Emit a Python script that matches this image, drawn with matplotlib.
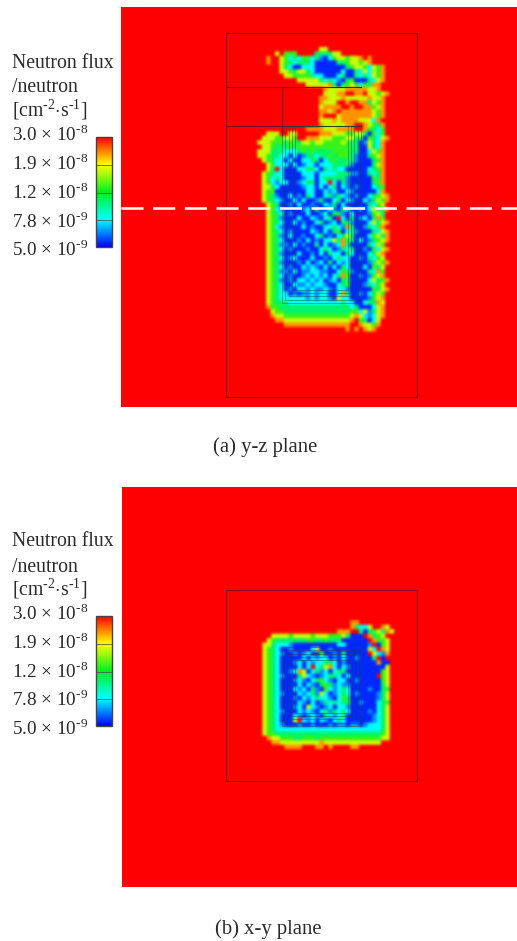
import numpy as np
import matplotlib
matplotlib.use("Agg")
import matplotlib.pyplot as plt
from matplotlib.colors import LinearSegmentedColormap, LogNorm
from matplotlib.cm import ScalarMappable

plt.rcParams['font.family'] = ['Liberation Serif', 'DejaVu Serif']
plt.rcParams['mathtext.fontset'] = 'custom'
plt.rcParams['mathtext.rm'] = 'Liberation Serif'
plt.rcParams['lines.scale_dashes'] = False

W, H = 517, 941
GRID = 90

flux_levels = [5.4e-9, 6.4e-9, 7.8e-9, 1.05e-8, 1.35e-8, 1.75e-8, 2.3e-8, 3.0e-8]
legend_lines = ["Neutron flux", "/neutron", "[cm$^{\u2010 2}$$\\cdot$s$^{\u2010 1}$]"]
tick_values = [3.0e-8, 1.9e-8, 1.2e-8, 7.8e-9, 5.0e-9]
tick_labels = ["3.0 × 10$^{\u20108}$", "1.9 × 10$^{\u20108}$", "1.2 × 10$^{\u20108}$", "7.8 × 10$^{\u20109}$", "5.0 × 10$^{\u20109}$"]
captions = ["(a) y-z plane", "(b) x-y plane"]

yz_rows = [
"77777777777777557777777777777",
"7777574447777333355",
"776775423244231024554556767",
"7767754323332000003345545677",
"7777753200222000000034554254677",
"7777755435532000000200325254677",
"7777775544443220002300323254677",
"7777777775555532321034000325677",
"7777777777755555630345424366777",
"777777777777777655556666655677",
"7777777777777775556677667554567",
"7777777777777766555655555655677",
"7777777777777765557767766354677",
"7777777777777756666776776645677",
"7777777777777766567666666654677",
"7777777777777767775666666654677",
"7777777777777755565666655526777",
"7777777777777765555566776543677",
"7777777777766665556666776432477",
"7755577557777766655544553042477",
"7555445547766655544455340432567",
"5554443443554554444543301532677",
"7554333434444444444443300532677",
"5553332223434333344443300254677",
"5543322020133233434443100345677",
"7543220200223302343333100034677",
"7754222020122022233331000035677",
"7753720002233203232200000234677",
"7543220000222022223331100323677",
"7542320000122023333310000043677",
"7542122001233022720310000034677",
"7553200000122020230210100023477",
"7544000000022002120021000002677",
"7543100201032002313210100234567",
"7543210020200130023021002135467",
"7754300102001002130200000324577",
"7754210000120300210320010253467",
"7754320100020012033102000145377",
"7754310002002102307203012036477",
"7754320020100230120331000253567",
"7754210000201002232163001324677",
"7754320100002102034023100032567",
"7754310200100230102353000245367",
"7754320001020102253633020134567",
"7754311020100302012630000325477",
"7754320100010023201323001042567",
"7754310002001020322032000235677",
"7754320120002001023220010324577",
"7754310001020120302120000135467",
"7754320100212102020320002043577",
"7754311020112211002431000326477",
"7754320100121212023640010145677",
"7754310102212120120330000253467",
"7754320021121221002340001324577",
"7754320102212112102210000043567",
"7754322010112122002630010235477",
"7754322222212122105220000145677",
"7754333222222222222322002336577",
"7764433333333333333332300025677",
"7775443333333333333334425135677",
"7776554444444444444445652125677",
"7777665555555555555556743025777",
"7777776666666666666667765546777",
"7777777777777777777767676567777",
]

xy_rows = [
"7777777777777777777777777777777",
"7777777777777777777777777777777",
"7777777777777777777776677777777",
"7777777777777777777776322577657",
"7777777777777777776667730345365",
"7775555455554555444530007634577",
"7754333333344334333000000764457",
"7553222100000000002200000170457",
"7543200100002500100000000527657",
"7543210010120040010300000752167",
"7543200000202122010200100037077",
"7543200012021223320100000006007",
"7543200002027235620210000000057",
"7543200126502312023300000000457",
"7543210003521012332020000007457",
"7543200012102342102200100000457",
"7543200002021034312110000000357",
"7543200021203104212320000100347",
"7543210002123152012320100001357",
"7543200010212322102430000001357",
"7543200002102013232330010002347",
"7543200012052101202210000002357",
"7543210002121023132320000102357",
"7543200021012103212300000012357",
"7543200057212021023200000012357",
"7543210001001000101101101222357",
"7543222222222222222222222222357",
"7544333333333333333333333333457",
"7765544433444344444444444444557",
"7776655555555565555555555555777",
"7777776666777667677776677777777",
]

cmap = LinearSegmentedColormap.from_list(
    "flux", ["#0000ff", "#00ffff", "#00f020", "#ffff00", "#ff0000"], N=256)
norm = LogNorm(5e-9, 3e-8)


def to_grid(rows, col0, row0):
    g = np.full((GRID, GRID), flux_levels[-1])
    for r, s in enumerate(rows):
        for c, ch in enumerate(s.ljust(31, '7')[:31]):
            g[row0 + r, col0 + c] = flux_levels[int(ch)]
    return g


def px_axes(x0, y0, x1, y1):
    return fig.add_axes([x0 / W, 1 - y1 / H, (x1 - x0) / W, (y1 - y0) / H])


fig = plt.figure(figsize=(W / 100, H / 100), dpi=100, facecolor='white')
LINE = '#7a1010'


def map_panel(x0, y0, x1, y1, rows, col0, row0):
    ax = px_axes(x0, y0, x1, y1)
    ax.imshow(to_grid(rows, col0, row0), cmap=cmap, norm=norm, aspect='auto',
              extent=(x0, x1, y1, y0), interpolation='hamming', interpolation_stage='rgba')
    ax.set_xlim(x0, x1)
    ax.set_ylim(y1, y0)
    ax.axis('off')
    return ax


def rect(ax, x0, y0, x1, y1, lw=0.8, alpha=0.9, color=LINE):
    ax.plot([x0, x1, x1, x0, x0], [y0, y0, y1, y1, y0], color=color, lw=lw, alpha=alpha,
            solid_joinstyle='miter')


def scale_panel(x0, y0, x1, y1, text_x, first_y):
    cax = px_axes(x0, y0, x1, y1)
    cb = fig.colorbar(ScalarMappable(norm=norm, cmap=cmap), cax=cax)
    cb.ax.yaxis.set_major_locator(plt.NullLocator())
    cb.ax.yaxis.set_minor_locator(plt.NullLocator())
    cb.outline.set_edgecolor('#444444')
    cb.outline.set_linewidth(1.0)
    for v in tick_values[1:4]:
        cb.ax.axhline(v, color='#555555', lw=0.7, alpha=0.8)
    ys = [first_y + 1, first_y + 26, first_y + 48]
    for s, y in zip(legend_lines, ys):
        fig.text(text_x / W, 1 - y / H, s, fontsize=14.2, color='#2a2a2a', va='center', ha='left')
    for i, s in enumerate(tick_labels):
        fig.text(12 / W, 1 - (first_y + 73 + i * 28.7) / H, s, fontsize=13.8, color='#2a2a2a',
                 va='center', ha='left')


# (a) y-z plane
ax = map_panel(121, 7, 517, 407, yz_rows, 31, 9)
rect(ax, 226, 33, 417, 397)
ax.plot([226, 361], [87, 87], color=LINE, lw=0.8)
ax.plot([226, 361], [126, 126], color=LINE, lw=0.8)
ax.plot([282, 282], [87, 135], color=LINE, lw=0.8)
for i in range(5):
    d = 3.3 * i
    rect(ax, 282 + d, 126, 361 - d, 303 - d, lw=0.6, alpha=0.5, color='#204a30')
ax.axhline(208, color='#fff4f0', lw=1.9, dashes=(15.9, 6.9), dash_capstyle='butt')
scale_panel(96, 137, 112, 247, 12, 62)
fig.text(265.5 / W, 1 - 447 / H, captions[0], fontsize=14.9, color='#2a2a2a', ha='center', va='center')

# (b) x-y plane
ax = map_panel(122, 487, 517, 887, xy_rows, 31, 28)
rect(ax, 226, 590, 417, 781)
for i in range(5):
    d = 3.3 * i
    rect(ax, 282 + d, 647 + d, 361 - d, 726 - d, lw=0.6, alpha=0.5, color='#204a30')
scale_panel(96, 616, 112, 726, 12, 541)
fig.text(268 / W, 1 - 929 / H, captions[1], fontsize=14.9, color='#2a2a2a', ha='center', va='center')

fig.savefig("out.png", dpi=100, facecolor='white')
